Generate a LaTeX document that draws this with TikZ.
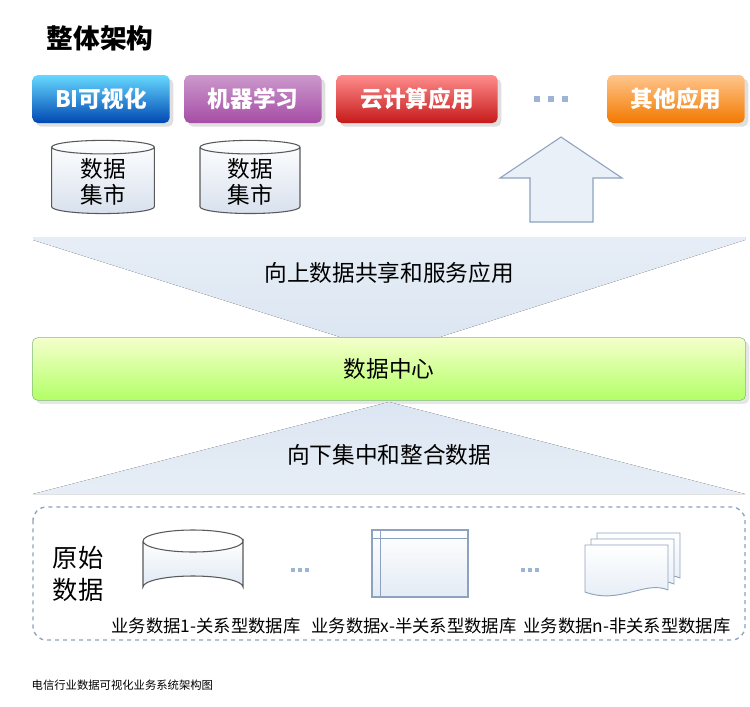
\documentclass[tikz,border=0pt]{standalone}
\usepackage{fontspec}
\setmainfont{Noto Sans CJK SC}
\usetikzlibrary{shapes.geometric,shadows}
\definecolor{lb}{HTML}{DCE6F2}
\definecolor{lbe}{HTML}{9DB4D4}
\tikzset{
 appbtn/.style={rounded corners=4pt,minimum width=#1,minimum height=36,text=white,font=\fontsize{17}{17}\selectfont\bfseries,drop shadow={opacity=0.25}},
 cyl/.style={cylinder,shape border rotate=90,aspect=0.25,draw=gray!70!black,top color=white,bottom color=lbe!40,line width=0.8pt,align=center},
 lbl/.style={font=\fontsize{13}{13}\selectfont},
 sq/.style={fill=lbe,minimum size=5pt,inner sep=0pt},
}
\begin{document}
\begin{tikzpicture}[x=0.75pt,y=-0.75pt]
\useasboundingbox (0,0) rectangle (750,707);
\node[anchor=west,font=\fontsize{20}{20}\selectfont\bfseries] (title) at (42,38) {整体架构};
\node[appbtn=103,top color=blue!25!cyan!60!white,bottom color=blue!60!cyan!70!black] (bi) at (101,99) {BI可视化};
\node[appbtn=103,top color=violet!40!white,bottom color=violet!70] (ml) at (253,99) {机器学习};
\node[appbtn=121,top color=red!45!white,bottom color=red!75!black!90] (cloud) at (417,99) {云计算应用};
\node[appbtn=103,top color=orange!45!white,bottom color=orange!95!black] (other) at (676,99) {其他应用};
\node[sq] (s1) at (537,99) {};
\node[sq] (s2) at (551,99) {};
\node[sq] (s3) at (565,99) {};
\node[cyl,minimum width=77,minimum height=50,font=\fontsize{17}{19}\selectfont] (dm1) at (103,182) {数据\\集市};
\node[cyl,minimum width=75,minimum height=50,font=\fontsize{17}{19}\selectfont] (dm2) at (250,182) {数据\\集市};
\draw[draw=lbe!90!black,fill=lb!60,line width=0.8pt] (530,222) -- (530,178) -- (500,178) -- (561,137) -- (622,178) -- (593,178) -- (593,222) -- cycle;
\fill[top color=lb!70,bottom color=lb] (33,237) -- (745,237) -- (745,240) -- (440,337) -- (340,337) -- (33,240) -- cycle;
\node[font=\fontsize{17}{17}\selectfont] (up) at (389,273) {向上数据共享和服务应用};
\node[rounded corners=4pt,minimum width=535,minimum height=47,draw=green!45!black!50,top color=green!20!yellow!20,bottom color=green!50!yellow!60,drop shadow={opacity=0.2},font=\fontsize{17}{17}\selectfont] (dc) at (389,369) {数据中心};
\fill[top color=lb,bottom color=lb!70] (389,402) -- (745,494) -- (33,494) -- cycle;
\node[font=\fontsize{17}{17}\selectfont] (down) at (389,455) {向下集中和整合数据};
\draw[dashed,draw=lbe!90!black,line width=1pt,rounded corners=10pt] (33,507) rectangle (745,640);
\node[font=\fontsize{19}{24}\selectfont,align=center] (raw) at (78,574) {原始\\数据};
\draw[draw=gray!70!black,top color=white,bottom color=lb!90,line width=0.8pt] (143,541) -- (143,587) arc[start angle=180,end angle=360,x radius=50,y radius=11] -- (243,541) arc[start angle=0,end angle=180,x radius=50,y radius=11];
\draw[draw=gray!70!black,line width=0.8pt] (143,541) arc[start angle=180,end angle=360,x radius=50,y radius=11];
\node[sq,minimum size=3pt] (d2a) at (293,570) {};
\node[sq,minimum size=3pt] (d2b) at (300,570) {};
\node[sq,minimum size=3pt] (d2c) at (307,570) {};
\draw[draw=lbe!90!black,top color=white,bottom color=lb!80,line width=0.8pt] (372,530) rectangle (468,597);
\draw[draw=lbe!90!black] (372,538) -- (468,538) (380,530) -- (380,597);
\node[sq,minimum size=3pt] (d3a) at (523,570) {};
\node[sq,minimum size=3pt] (d3b) at (530,570) {};
\node[sq,minimum size=3pt] (d3c) at (537,570) {};
\foreach \d in {12,6,0}{
 \draw[draw=lbe!90!black,top color=white,bottom color=lb!80,line width=0.7pt] (585+\d,545-\d) -- (668+\d,545-\d) -- (668+\d,590-\d) .. controls (645+\d,580-\d) and (620+\d,605-\d) .. (585+\d,592-\d) -- cycle;
}
\node[lbl] (l1) at (206,626) {业务数据1-关系型数据库};
\node[lbl] (l2) at (414,626) {业务数据x-半关系型数据库};
\node[lbl] (l3) at (627,626) {业务数据n-非关系型数据库};
\node[anchor=west,font=\fontsize{8.5}{9}\selectfont] (cap) at (27,685) {电信行业数据可视化业务系统架构图};
\end{tikzpicture}
\end{document}
